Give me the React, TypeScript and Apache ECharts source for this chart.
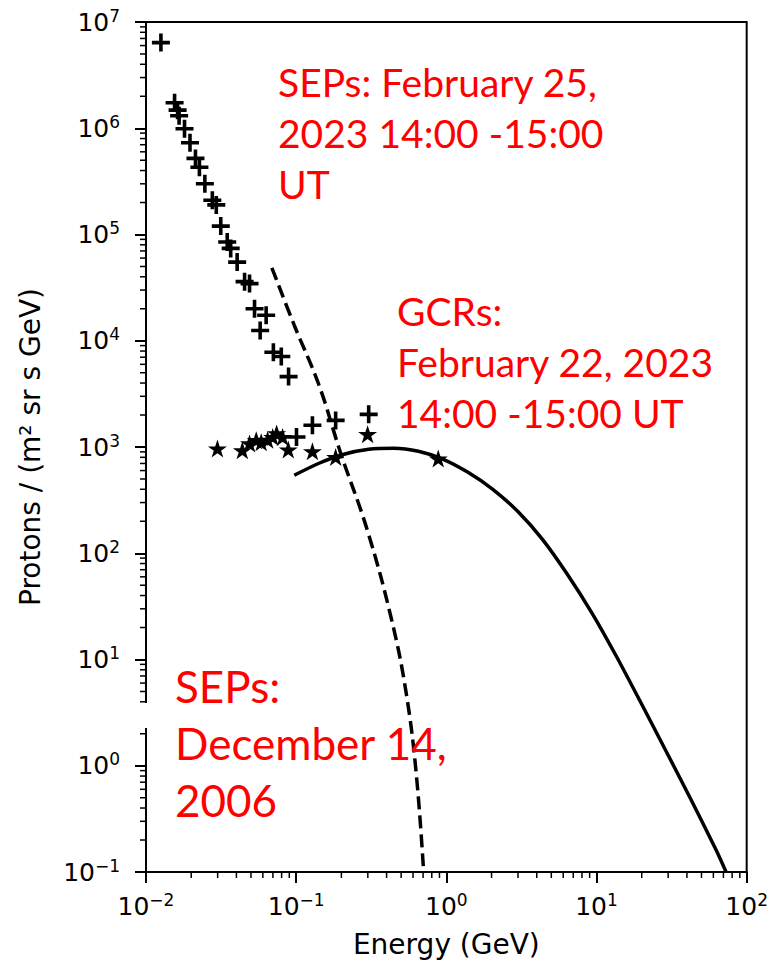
import React, { useEffect, useRef } from "react";
import * as echarts from "echarts";

// SEPs February 25, 2023 (plus markers)
const sepFeb2023Energy = [0.01257, 0.0155, 0.01623, 0.01661, 0.01805, 0.01963, 0.02135, 0.02268, 0.02466, 0.02765, 0.02938, 0.03147, 0.03474, 0.03664, 0.04046, 0.04534, 0.04893, 0.05281, 0.0631, 0.05757, 0.0705, 0.0796, 0.089, 0.1005, 0.1283, 0.1832, 0.304];
const sepFeb2023Flux = [6.4e6, 1.74e6, 1.48e6, 1.31e6, 9.9e5, 7.3e5, 5.2e5, 4.3e5, 3.0e5, 2.1e5, 1.9e5, 1.2e5, 8.5e4, 7.4e4, 5.5e4, 3.6e4, 3.45e4, 2.0e4, 1.74e4, 1.25e4, 7.8e3, 7.1e3, 4.6e3, 1.24e3, 1.6e3, 1.78e3, 2.03e3];

// GCRs February 22, 2023 (star markers)
const gcrFeb2023Energy = [0.0299, 0.0438, 0.0489, 0.0542, 0.0585, 0.0646, 0.0698, 0.0741, 0.0812, 0.0886, 0.1283, 0.1832, 0.299, 0.883];
const gcrFeb2023Flux = [966, 931, 1080, 1160, 1110, 1170, 1240, 1340, 1240, 945, 911, 805, 1320, 778];

// GCR model spectrum (solid line)
const gcrModelEnergy = [0.0971, 0.142, 0.208, 0.304, 0.445, 0.651, 0.953, 1.393, 2.039, 2.984, 4.365, 6.39, 9.35, 13.67, 20.0, 29.3, 42.8, 62.7, 72.9];
const gcrModelFlux = [542, 703, 854, 951, 973, 911, 766, 578, 400, 248, 135, 63.4, 27.2, 10.5, 3.79, 1.34, 0.473, 0.16, 0.1];

// SEPs December 14, 2006 (dashed line)
const sepDec2006Energy = [0.0689, 0.0971, 0.142, 0.197, 0.298, 0.4335, 0.542, 0.631, 0.706];
const sepDec2006Flux = [48600, 14000, 3810, 891, 164, 23.2, 4.7, 0.83, 0.1];

// axis decades (tick exponents)
const xDecades = [-2, -1, 0, 1, 2];
const yDecades = [-1, 0, 1, 2, 3, 4, 5, 6, 7];
const minorMultipliers = [2, 3, 4, 5, 6, 7, 8, 9];

const xAxisTitle = "Energy (GeV)";
const yAxisTitle = "Protons / (m² sr s GeV)";
const noteSep2023 = ["SEPs: February 25,", "2023 14:00 -15:00", "UT"];
const noteGcr = ["GCRs:", "February 22, 2023", "14:00 -15:00 UT"];
const noteSep2006 = ["SEPs:", "December 14,", "2006"];

const PLUS = "path://M0,4L4,4L4,0L6,0L6,4L10,4L10,6L6,6L6,10L4,10L4,6L0,6Z";
const STAR = "path://M50,0L61.23,34.55L97.55,34.55L68.17,55.9L79.39,90.45L50,69.1L20.61,90.45L31.83,55.9L2.45,34.55L38.77,34.55Z";

const zip = (a: number[], b: number[]) => a.map((v, i) => [v, b[i]]);

const fmtPow = (v: number) => {
  const e = Math.round(Math.log10(v));
  const s = e < 0 ? "\u2212" + Math.abs(e) : String(e);
  return `{b|10}{s|${s}}`;
};

const tickRich = {
  b: { fontSize: 25, lineHeight: 30, fontFamily: "DejaVu Sans", color: "#000" },
  s: { fontSize: 17, lineHeight: 17, fontFamily: "DejaVu Sans", color: "#000", verticalAlign: "top" },
};

export default function App() {
  const ref = useRef<HTMLDivElement>(null);
  useEffect(() => {
    if (!ref.current) return;
    const chart = echarts.init(ref.current, null, { renderer: "svg" });

    const xMin = Math.pow(10, xDecades[0]);
    const xMax = Math.pow(10, xDecades[xDecades.length - 1]);
    const yMin = Math.pow(10, yDecades[0]);
    const yMax = Math.pow(10, yDecades[yDecades.length - 1]);

    const minorData: number[][] = [];
    xDecades.slice(0, -1).forEach((e) =>
      minorMultipliers.forEach((m) => minorData.push([m * Math.pow(10, e), yMin, 0]))
    );
    yDecades.slice(0, -1).forEach((e) =>
      minorMultipliers.forEach((m) => minorData.push([xMin, m * Math.pow(10, e), 1]))
    );

    const mkText = (lines: string[], x: number, y0: number, pitch: number, size: number) =>
      lines.map((t, i) => ({
        type: "text",
        x,
        y: y0 + i * pitch,
        z: 100,
        style: {
          text: t,
          fill: "#ff0000",
          fontSize: size,
          fontFamily: "Lato",
          align: "left",
          verticalAlign: "middle",
        },
      }));

    chart.setOption({
      animation: false,
      backgroundColor: "#fff",
      grid: {
        left: 146,
        right: 20,
        top: 22,
        bottom: 91,
        show: true,
        borderColor: "#000",
        borderWidth: 2,
        backgroundColor: "transparent",
      },
      xAxis: {
        type: "log",
        logBase: 10,
        min: xMin,
        max: xMax,
        splitNumber: xDecades.length - 1,
        name: xAxisTitle,
        nameLocation: "middle",
        nameGap: 58,
        nameTextStyle: { fontSize: 28, fontFamily: "DejaVu Sans", color: "#000" },
        axisLine: { show: true, lineStyle: { color: "#000", width: 2 } },
        axisTick: { show: true, length: 11, lineStyle: { color: "#000", width: 2 } },
        axisLabel: { margin: 19, formatter: fmtPow, rich: tickRich },
        splitLine: { show: false },
      },
      yAxis: {
        type: "log",
        logBase: 10,
        min: yMin,
        max: yMax,
        splitNumber: yDecades.length - 1,
        name: yAxisTitle,
        nameLocation: "middle",
        nameGap: 102,
        nameTextStyle: { fontSize: 28, fontFamily: "DejaVu Sans", color: "#000" },
        axisLine: { show: true, lineStyle: { color: "#000", width: 2 } },
        axisTick: { show: true, length: 11, lineStyle: { color: "#000", width: 2 } },
        axisLabel: { margin: 26, formatter: fmtPow, rich: tickRich },
        splitLine: { show: false },
      },
      graphic: [
        { type: "rect", z: 90, shape: { x: 126, y: 703, width: 26, height: 25 }, style: { fill: "#fff" } },
        ...mkText(noteSep2023, 278, 82, 51, 39),
        ...mkText(noteGcr, 397, 311, 51, 39),
        ...mkText(noteSep2006, 175, 686, 57, 44),
      ],
      series: [
        {
          type: "custom",
          silent: true,
          clip: false,
          encode: { x: 0, y: 1 },
          data: minorData,
          renderItem: (params: any, api: any) => {
            const p = api.coord([api.value(0), api.value(1)]);
            const kind = api.value(2);
            const shape =
              kind === 0
                ? { x1: p[0], y1: p[1], x2: p[0], y2: p[1] + 6 }
                : { x1: p[0] - 6, y1: p[1], x2: p[0], y2: p[1] };
            return { type: "line", shape, style: { stroke: "#000", lineWidth: 1.5 } };
          },
        },
        {
          type: "line",
          data: zip(gcrModelEnergy, gcrModelFlux),
          smooth: 0.25,
          showSymbol: false,
          lineStyle: { color: "#000", width: 3.5 },
          z: 3,
        },
        {
          type: "line",
          data: zip(sepDec2006Energy, sepDec2006Flux),
          smooth: 0.4,
          showSymbol: false,
          lineStyle: { color: "#000", width: 3.5, type: [13, 6] },
          z: 3,
        },
        {
          type: "scatter",
          data: zip(sepFeb2023Energy, sepFeb2023Flux),
          symbol: PLUS,
          symbolSize: 18,
          itemStyle: { color: "#000", opacity: 1 },
          z: 4,
        },
        {
          type: "scatter",
          data: zip(gcrFeb2023Energy, gcrFeb2023Flux),
          symbol: STAR,
          symbolSize: [19, 18],
          itemStyle: { color: "#000", opacity: 1 },
          z: 4,
        },
      ],
    });
    return () => chart.dispose();
  }, []);
  return (
    <div
      ref={ref}
      style={{ position: "fixed", left: 0, top: 0, width: 771, height: 963, background: "#fff" }}
    />
  );
}
